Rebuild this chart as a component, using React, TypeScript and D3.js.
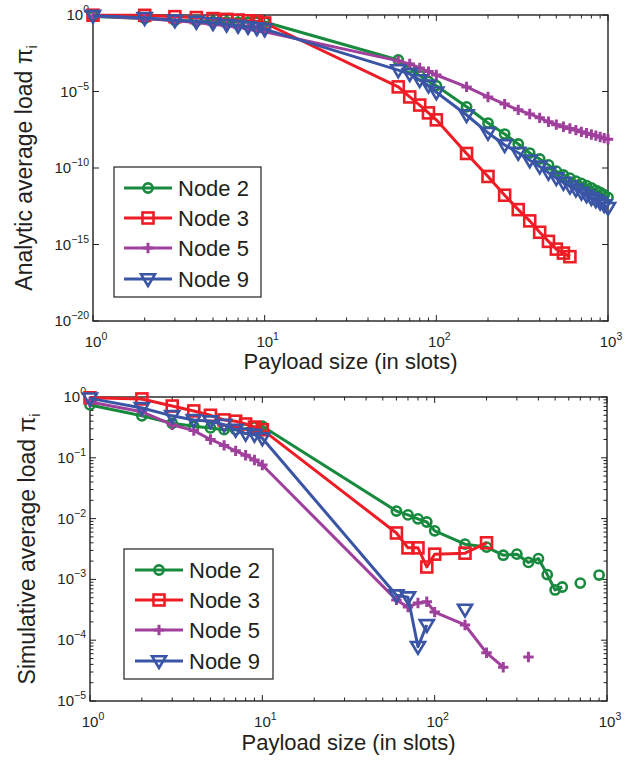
import React from 'react';
import * as d3 from 'd3';

// ---------- data ----------
const seriesNames = ['Node 2', 'Node 3', 'Node 5', 'Node 9'];
const seriesColors = ['#178a3e', '#ee1d25', '#a0409d', '#3a55a5'];
const seriesMarkers = ['circle', 'square', 'plus', 'triangle'];

// Analytic (top panel)
const analyticX = [1, 2, 3, 4, 5, 6, 7, 8, 9, 10, 60, 70, 80, 90, 100, 150, 200, 250, 300, 350, 400, 450, 500, 550, 600, 650, 700, 750, 800, 850, 900, 950, 1000];
const analyticNode2 = [0.8, 0.6, 0.45, 0.4, 0.37, 0.35, 0.34, 0.33, 0.33, 0.35, 1.15e-3, 3.5e-4, 1.1e-4, 4.5e-5, 2.4e-5, 1e-6, 8.7e-8, 1.66e-8, 3.7e-9, 9.5e-10, 3.9e-10, 1.6e-10, 6.3e-11, 3.5e-11, 2.2e-11, 1.4e-11, 1e-11, 7.1e-12, 5e-12, 3.5e-12, 2.5e-12, 1.8e-12, 1.2e-12];
const analyticX3 = [1, 2, 3, 4, 5, 6, 7, 8, 9, 10, 60, 70, 80, 90, 100, 150, 200, 250, 300, 350, 400, 450, 500, 550, 600];
const analyticNode3 = [0.97, 0.95, 0.78, 0.68, 0.58, 0.52, 0.47, 0.42, 0.38, 0.3, 2e-5, 4.4e-6, 1.3e-6, 4e-7, 1.4e-7, 8.9e-10, 2.8e-11, 1.66e-12, 1.9e-13, 3.5e-14, 6.3e-15, 1.6e-15, 5e-16, 2.75e-16, 1.6e-16];
const analyticNode5 = [0.85, 0.6, 0.42, 0.32, 0.25, 0.2, 0.16, 0.13, 0.1, 0.08, 1e-3, 6.3e-4, 3.5e-4, 2e-4, 1.2e-4, 2e-5, 4.4e-6, 1.5e-6, 6.3e-7, 3.4e-7, 1.9e-7, 1.05e-7, 6.8e-8, 5e-8, 3.8e-8, 3e-8, 2.3e-8, 1.9e-8, 1.55e-8, 1.3e-8, 1.07e-8, 8.9e-9, 7.6e-9];
const analyticNode9 = [0.9, 0.65, 0.45, 0.37, 0.3, 0.24, 0.2, 0.17, 0.14, 0.12, 2.5e-4, 1.4e-4, 5.6e-5, 2.5e-5, 8.9e-6, 2.9e-7, 2e-8, 3.2e-9, 1e-9, 3.2e-10, 1.26e-10, 5e-11, 2.2e-11, 1.1e-11, 6.3e-12, 4e-12, 2.5e-12, 1.66e-12, 1.1e-12, 8e-13, 5.6e-13, 3.8e-13, 2.5e-13];

// Simulative (bottom panel); null = no sample (breaks the line)
const simX2 = [1, 2, 3, 4, 5, 6, 7, 8, 9, 10, 60, 70, 80, 90, 100, 150, 200, 250, 300, 350, 400, 450, 500, 550, 600, 700, 800, 900];
const simNode2 = [0.74, 0.49, 0.37, 0.33, 0.31, 0.29, 0.29, 0.3, 0.32, 0.33, 0.0133, 0.0115, 0.0099, 0.0088, 0.0063, 0.0038, 0.0034, 0.0025, 0.0026, 0.0019, 0.0022, 0.0012, 0.00067, 0.00075, null, 0.00087, null, 0.00118];
const simX3 = [1, 2, 3, 4, 5, 6, 7, 8, 9, 10, 60, 70, 80, 90, 100, 150, 200];
const simNode3 = [0.97, 0.93, 0.71, 0.59, 0.5, 0.42, 0.4, 0.36, 0.32, 0.29, 0.0058, 0.0033, 0.0033, 0.0016, 0.0026, 0.0027, 0.004];
const simX5 = [1, 2, 3, 4, 5, 6, 7, 8, 9, 10, 60, 70, 80, 90, 100, 150, 200, 250, 300, 350];
const simNode5 = [0.83, 0.57, 0.35, 0.28, 0.2, 0.16, 0.13, 0.11, 0.092, 0.076, 0.00046, 0.00035, 0.00041, 0.00043, 0.00029, 0.000178, 6.2e-5, 3.6e-5, null, 5.3e-5];
const simX9 = [1, 2, 3, 4, 5, 6, 7, 8, 9, 10, 60, 70, 80, 90, 100, 150];
const simNode9 = [0.95, 0.66, 0.49, 0.42, 0.4, 0.35, 0.29, 0.25, 0.24, 0.21, 0.00055, 0.00051, 7.8e-5, 0.000178, null, 0.00032];

const xTickExps = [0, 1, 2, 3];
const topYTickExps = [0, -5, -10, -15, -20];
const bottomYTickExps = [0, -1, -2, -3, -4, -5];

const xLabel = 'Payload size (in slots)';
const topYLabel = 'Analytic average load  ';
const bottomYLabel = 'Simulative average load  ';

// ---------- helpers ----------
type Pt = { x: number; y: number | null };
const zip = (xs: number[], ys: (number | null)[]): Pt[] => xs.map((x, i) => ({ x, y: ys[i] }));

const FONT = '"Liberation Sans", Arial, Helvetica, sans-serif';
const TEXT = '#231f20';

function Marker({ kind, color }: { kind: string; color: string }) {
  const sw = 2.6;
  if (kind === 'circle') return <circle r={4.6} fill="none" stroke={color} strokeWidth={sw} />;
  if (kind === 'square') return <rect x={-5.5} y={-5.5} width={11} height={11} fill="none" stroke={color} strokeWidth={sw} />;
  if (kind === 'plus') return <path d="M-5.2,0H5.2M0,-5.2V5.2" fill="none" stroke={color} strokeWidth={3} />;
  return <path d="M-7,-4.8L7,-4.8L0,7Z" fill="none" stroke={color} strokeWidth={sw} strokeLinejoin="miter" />;
}

function Pow({ exp, x, y, anchor }: { exp: number; x: number; y: number; anchor: string }) {
  const e = exp < 0 ? '\u2212' + Math.abs(exp) : String(exp);
  return (
    <text x={x} y={y} textAnchor={anchor} fontFamily={FONT} fontSize={15} fill={TEXT}>
      10<tspan dy={-7} fontSize={10.5}>{e}</tspan>
    </text>
  );
}

type PanelProps = {
  left: number; right: number; top: number; bottom: number;
  yMinExp: number; yTickExps: number[]; yMinor: boolean;
  series: Pt[][];
  yLabel: string; yLabelX: number;
  xTickY: number; yTickRight: number; xLabelY: number;
  legend: { x0: number; y0: number; x1: number; y1: number; rows: number[]; lx0: number; lx1: number; tx: number };
};

function Panel(p: PanelProps) {
  const x = d3.scaleLog().domain([1, 1000]).range([p.left, p.right]);
  const y = d3.scaleLog().domain([Math.pow(10, p.yMinExp), 1]).range([p.bottom, p.top]);
  const line = d3.line<Pt>().defined(d => d.y != null).x(d => x(d.x)).y(d => y(d.y as number));

  const xMajor = xTickExps.map(e => Math.pow(10, e));
  const xMinor: number[] = [];
  for (let e = 0; e < 3; e++) for (let k = 2; k <= 9; k++) xMinor.push(k * Math.pow(10, e));
  const yMajor = p.yTickExps.map(e => Math.pow(10, e));
  const yMinor: number[] = [];
  if (p.yMinor) for (let e = p.yMinExp; e < 0; e++) for (let k = 2; k <= 9; k++) yMinor.push(k * Math.pow(10, e));

  const MJ = 6, MN = 3.5;
  const axisColor = '#231f20';
  const ticks: JSX.Element[] = [];
  xMajor.forEach((v, i) => {
    const px = x(v);
    ticks.push(<line key={'xM' + i} x1={px} x2={px} y1={p.bottom} y2={p.bottom - MJ} />);
    ticks.push(<line key={'xMt' + i} x1={px} x2={px} y1={p.top} y2={p.top + MJ} />);
  });
  xMinor.forEach((v, i) => {
    const px = x(v);
    ticks.push(<line key={'xm' + i} x1={px} x2={px} y1={p.bottom} y2={p.bottom - MN} />);
    ticks.push(<line key={'xmt' + i} x1={px} x2={px} y1={p.top} y2={p.top + MN} />);
  });
  yMajor.forEach((v, i) => {
    const py = y(v);
    ticks.push(<line key={'yM' + i} x1={p.left} x2={p.left + MJ} y1={py} y2={py} />);
    ticks.push(<line key={'yMr' + i} x1={p.right} x2={p.right - MJ} y1={py} y2={py} />);
  });
  yMinor.forEach((v, i) => {
    const py = y(v);
    ticks.push(<line key={'ym' + i} x1={p.left} x2={p.left + MN} y1={py} y2={py} />);
    ticks.push(<line key={'ymr' + i} x1={p.right} x2={p.right - MN} y1={py} y2={py} />);
  });

  const L = p.legend;
  const cy = (p.top + p.bottom) / 2;
  return (
    <g>
      <g stroke={axisColor} strokeWidth={1}>{ticks}</g>
      <rect x={p.left} y={p.top} width={p.right - p.left} height={p.bottom - p.top} fill="none" stroke={axisColor} strokeWidth={1.4} />
      {xTickExps.map(e => <Pow key={'xl' + e} exp={e} x={x(Math.pow(10, e)) + 3} y={p.xTickY} anchor="middle" />)}
      {p.yTickExps.map(e => <Pow key={'yl' + e} exp={e} x={p.yTickRight} y={y(Math.pow(10, e)) + 5} anchor="end" />)}
      <text x={(p.left + p.right) / 2} y={p.xLabelY} textAnchor="middle" fontFamily={FONT} fontSize={22} fill={TEXT}>{xLabel}</text>
      <text transform={`translate(${p.yLabelX},${cy}) rotate(-90)`} textAnchor="middle" fontFamily={FONT} fontSize={23} fill={TEXT}>
        {p.yLabel}π<tspan dy={5} fontSize={14}>i</tspan>
      </text>
      {p.series.map((s, i) => (
        <g key={'s' + i}>
          <path d={line(s) || ''} fill="none" stroke={seriesColors[i]} strokeWidth={3} strokeLinejoin="round" />
          {s.filter(d => d.y != null).map((d, j) => (
            <g key={j} transform={`translate(${x(d.x)},${y(d.y as number)})`}>
              <Marker kind={seriesMarkers[i]} color={seriesColors[i]} />
            </g>
          ))}
        </g>
      ))}
      <rect x={L.x0} y={L.y0} width={L.x1 - L.x0} height={L.y1 - L.y0} fill="#fff" stroke={axisColor} strokeWidth={1.2} />
      {seriesNames.map((n, i) => (
        <g key={'lg' + i}>
          <line x1={L.lx0} x2={L.lx1} y1={L.rows[i]} y2={L.rows[i]} stroke={seriesColors[i]} strokeWidth={3} />
          <g transform={`translate(${(L.lx0 + L.lx1) / 2},${L.rows[i]})`}>
            <Marker kind={seriesMarkers[i]} color={seriesColors[i]} />
          </g>
          <text x={L.tx} y={L.rows[i] + 8} fontFamily={FONT} fontSize={22} fill={TEXT}>{n}</text>
        </g>
      ))}
    </g>
  );
}

export default function App() {
  const topSeries = [
    zip(analyticX, analyticNode2),
    zip(analyticX3, analyticNode3),
    zip(analyticX, analyticNode5),
    zip(analyticX, analyticNode9),
  ];
  const bottomSeries = [
    zip(simX2, simNode2),
    zip(simX3, simNode3),
    zip(simX5, simNode5),
    zip(simX9, simNode9),
  ];
  return (
    <svg width={633} height={762} style={{ position: 'absolute', left: 0, top: 0, background: '#fff' }}>
      <rect x={0} y={0} width={633} height={762} fill="#fff" />
      <Panel
        left={93} right={608} top={15} bottom={321}
        yMinExp={-20} yTickExps={topYTickExps} yMinor={false}
        series={topSeries}
        yLabel={topYLabel} yLabelX={32}
        xTickY={347} yTickRight={89} xLabelY={369}
        legend={{ x0: 114, y0: 167, x1: 261, y1: 297, rows: [188, 218, 248, 279], lx0: 124, lx1: 172, tx: 178 }}
      />
      <Panel
        left={90} right={607} top={397} bottom={701}
        yMinExp={-5} yTickExps={bottomYTickExps} yMinor={true}
        series={bottomSeries}
        yLabel={bottomYLabel} yLabelX={35}
        xTickY={727} yTickRight={86} xLabelY={750}
        legend={{ x0: 124, y0: 549, x1: 273, y1: 679, rows: [570, 600, 630, 661], lx0: 135, lx1: 183, tx: 189 }}
      />
    </svg>
  );
}
